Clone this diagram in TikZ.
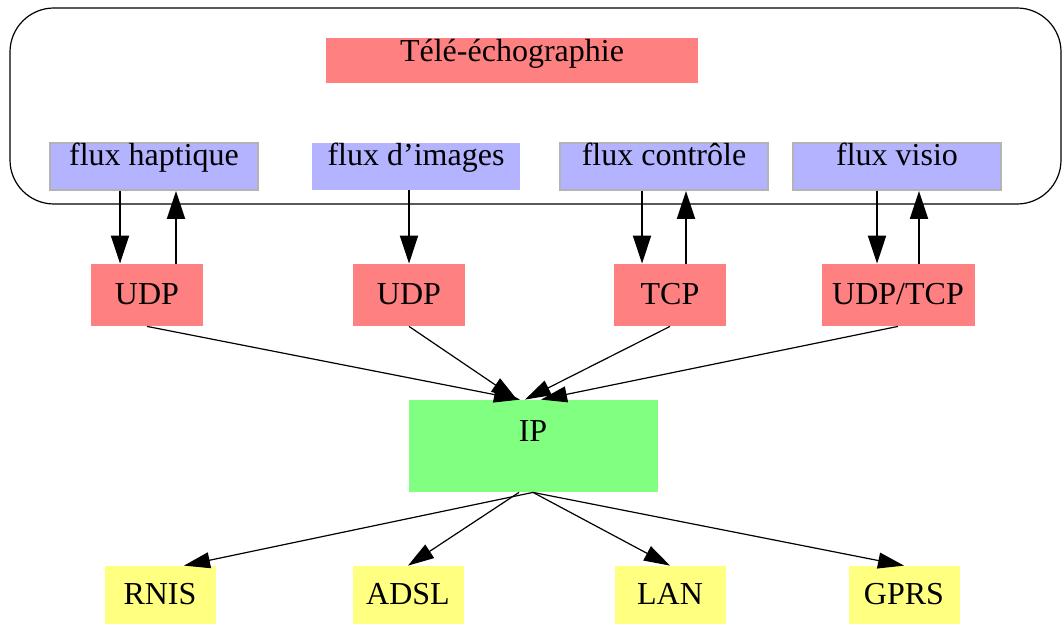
\documentclass[tikz,border=0pt]{standalone}
\usepackage{fontspec}
\setmainfont{Liberation Serif}
\usetikzlibrary{arrows.meta}
\definecolor{boxred}{HTML}{FF8080}
\definecolor{boxblue}{HTML}{B3B3FF}
\definecolor{boxgreen}{HTML}{80FF80}
\definecolor{boxyellow}{HTML}{FFFF80}
\definecolor{boxgray}{HTML}{B3B3B3}
\begin{document}
\begin{tikzpicture}[x=0.5pt,y=-0.5pt,
  font=\fontsize{16}{19}\selectfont,
  box/.style={inner sep=0pt, anchor=base},
  titlebox/.style={box, fill=boxred, minimum width=186pt, text height=12pt, text depth=10.5pt},
  fluxbox/.style={box, fill=boxblue, minimum width=104pt, text height=11.5pt, text depth=12pt},
  edged/.style={draw=boxgray, line width=1pt},
  protobox/.style={box, fill=boxred, minimum width=56pt, text height=20.5pt, text depth=10.5pt},
  ipbox/.style={box, fill=boxgreen, minimum width=124.5pt, text height=20.5pt, text depth=25.5pt},
  linkbox/.style={box, fill=boxyellow, minimum width=55.5pt, text height=19pt, text depth=11pt},
  flow/.style={-{Triangle[length=14pt,width=9pt]}, line width=1pt},
  route/.style={-{Triangle[length=13pt,width=8pt]}, line width=0.6pt}]
\useasboundingbox (0,0) rectangle (1063,624);
\draw[rounded corners=22pt, line width=0.6pt] (10,8) rectangle (1061,204);
\node[titlebox] (tele) at (512,62) {Télé-échographie};
\node[fluxbox, edged] (haptique) at (154,166) {flux haptique};
\node[fluxbox] (images) at (416,166) {flux d’images};
\node[fluxbox, edged] (controle) at (664,166) {flux contrôle};
\node[fluxbox, edged] (visio) at (897,166) {flux visio};
\node[protobox] (udpa) at (147,305) {UDP};
\node[protobox] (udpb) at (409,305) {UDP};
\node[protobox] (tcp) at (670,305) {TCP};
\node[protobox, minimum width=76.5pt] (udptcp) at (898,305) {UDP/TCP};
\node[ipbox] (ip) at (533,441) {IP};
\node[linkbox] (rnis) at (160,604) {RNIS};
\node[linkbox] (adsl) at (408,604) {ADSL};
\node[linkbox] (lan) at (670,604) {LAN};
\node[linkbox] (gprs) at (904,604) {GPRS};
\draw[flow] ([xshift=-17pt]haptique.south) -- ([xshift=-13.5pt]udpa.north);
\draw[flow] ([xshift=14.5pt]udpa.north) -- ([xshift=11pt]haptique.south);
\draw[flow] ([xshift=-3.5pt]images.south) -- (udpb.north);
\draw[flow] ([xshift=-11pt]controle.south) -- ([xshift=-14pt]tcp.north);
\draw[flow] ([xshift=8pt]tcp.north) -- ([xshift=11pt]controle.south);
\draw[flow] ([xshift=-10pt]visio.south) -- ([xshift=-10.5pt]udptcp.north);
\draw[flow] ([xshift=10.5pt]udptcp.north) -- ([xshift=11pt]visio.south);
\draw[route] (udpa.south) -- ([xshift=-6.5pt]ip.north);
\draw[route] (udpb.south) -- ([xshift=-8pt]ip.north);
\draw[route] (tcp.south) -- ([xshift=-4pt]ip.north);
\draw[route] (udptcp.south) -- ([xshift=4pt]ip.north);
\draw[route] (ip.south) -- ([xshift=12pt]rnis.north);
\draw[route] ([xshift=-7pt]ip.south) -- (adsl.north);
\draw[route] (ip.south) -- (lan.north);
\draw[route] (ip.south) -- (gprs.north);
\end{tikzpicture}
\end{document}
